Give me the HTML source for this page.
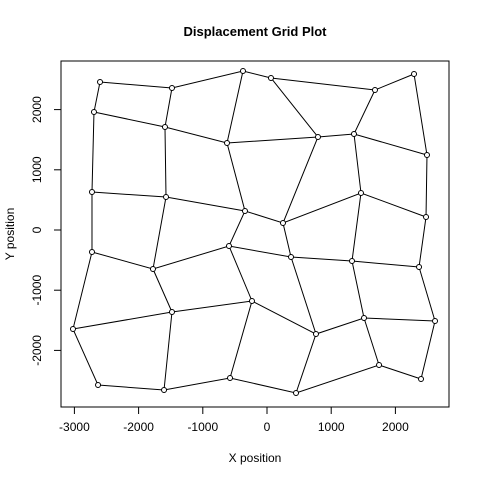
<!DOCTYPE html>
<html><head><meta charset="utf-8"><style>
html,body{margin:0;padding:0;background:#fff;}
svg{display:block;font-family:"Liberation Sans",Arial,sans-serif;}
</style></head><body>
<svg id="chart" width="480" height="480" viewBox="0 0 480 480">
<rect width="480" height="480" fill="#fff"/>
<text x="255" y="36" text-anchor="middle" font-size="13" font-weight="bold">Displacement Grid Plot</text>
<rect x="61" y="61" width="388" height="346" fill="none" stroke="#000" stroke-width="1"/>
<text x="255" y="462" text-anchor="middle" font-size="12">X position</text>
<text x="0" y="0" transform="translate(14,234) rotate(-90)" text-anchor="middle" font-size="12">Y position</text>
<g id="axes"></g>
<g id="grid"></g>
</svg>
<script>
const xTicks=[-3000,-2000,-1000,0,1000,2000];
const yTicks=[-2000,-1000,0,1000,2000];
const row1X=[-2601,-1480,-374,62,1682,2290], row1Y=[2458,2359,2641,2525,2326,2591];
const row2X=[-2695,-1589,-623,794,1355,2492], row2Y=[1960,1711,1445,1545,1595,1246];
const row3X=[-2726,-1573,-343,249,1464,2477], row3Y=[631,548,316,116,615,216];
const row4X=[-2726,-1776,-592,374,1324,2368], row4Y=[-365,-648,-266,-449,-515,-615];
const row5X=[-3022,-1480,-234,763,1511,2617], row5Y=[-1645,-1362,-1179,-1728,-1462,-1512];
const row6X=[-2632,-1604,-576,452,1745,2399], row6Y=[-2575,-2658,-2458,-2708,-2243,-2475];
const rowsX=[row1X,row2X,row3X,row4X,row5X,row6X];
const rowsY=[row1Y,row2Y,row3Y,row4Y,row5Y,row6Y];
const sx=v=>267+v*0.0642, sy=v=>230-v*0.0602;
const NS="http://www.w3.org/2000/svg";
const axes=document.getElementById('axes'), grid=document.getElementById('grid');
function mk(tag,attrs,parent){const e=document.createElementNS(NS,tag);for(const k in attrs)e.setAttribute(k,attrs[k]);parent.appendChild(e);return e;}
// x axis
let l=mk('line',{x1:sx(xTicks[0]),x2:sx(xTicks[xTicks.length-1]),y1:407,y2:407,stroke:'#000'},axes);


xTicks.forEach(t=>{
 const tk=mk('line',{x1:sx(t),x2:sx(t),y1:407,y2:414,stroke:'#000'},axes);
 
 
 const tx=mk('text',{x:sx(t),y:431,'text-anchor':'middle','font-size':'12'},axes);
 tx.textContent=t;
 
 
});
l=mk('line',{x1:61,x2:61,y1:sy(yTicks[0]),y2:sy(yTicks[yTicks.length-1]),stroke:'#000'},axes);


yTicks.forEach(t=>{
 const tk=mk('line',{x1:54,x2:61,y1:sy(t),y2:sy(t),stroke:'#000'},axes);
 
 
 const tx=mk('text',{x:0,y:0,transform:`translate(41,${sy(t)}) rotate(-90)`,'text-anchor':'middle','font-size':'12'},axes);
 tx.textContent=t;
 
 
});
// horizontal grid lines
for(let r=0;r<6;r++){
 const pts=rowsX[r].map((x,i)=>sx(x)+','+sy(rowsY[r][i])).join(' ');
 const p=mk('polyline',{points:pts,fill:'none',stroke:'#000','stroke-width':1},grid);
 
 
}
for(let c=0;c<6;c++){
 const pts=rowsX.map((rx,r)=>sx(rx[c])+','+sy(rowsY[r][c])).join(' ');
 const p=mk('polyline',{points:pts,fill:'none',stroke:'#000','stroke-width':1},grid);
 
 
}
for(let r=0;r<6;r++)for(let c=0;c<6;c++){
 const ci=mk('circle',{cx:sx(rowsX[r][c]),cy:sy(rowsY[r][c]),r:2.5,fill:'#fff',stroke:'#000'},grid);
 
 
}
</script>
</body></html>
